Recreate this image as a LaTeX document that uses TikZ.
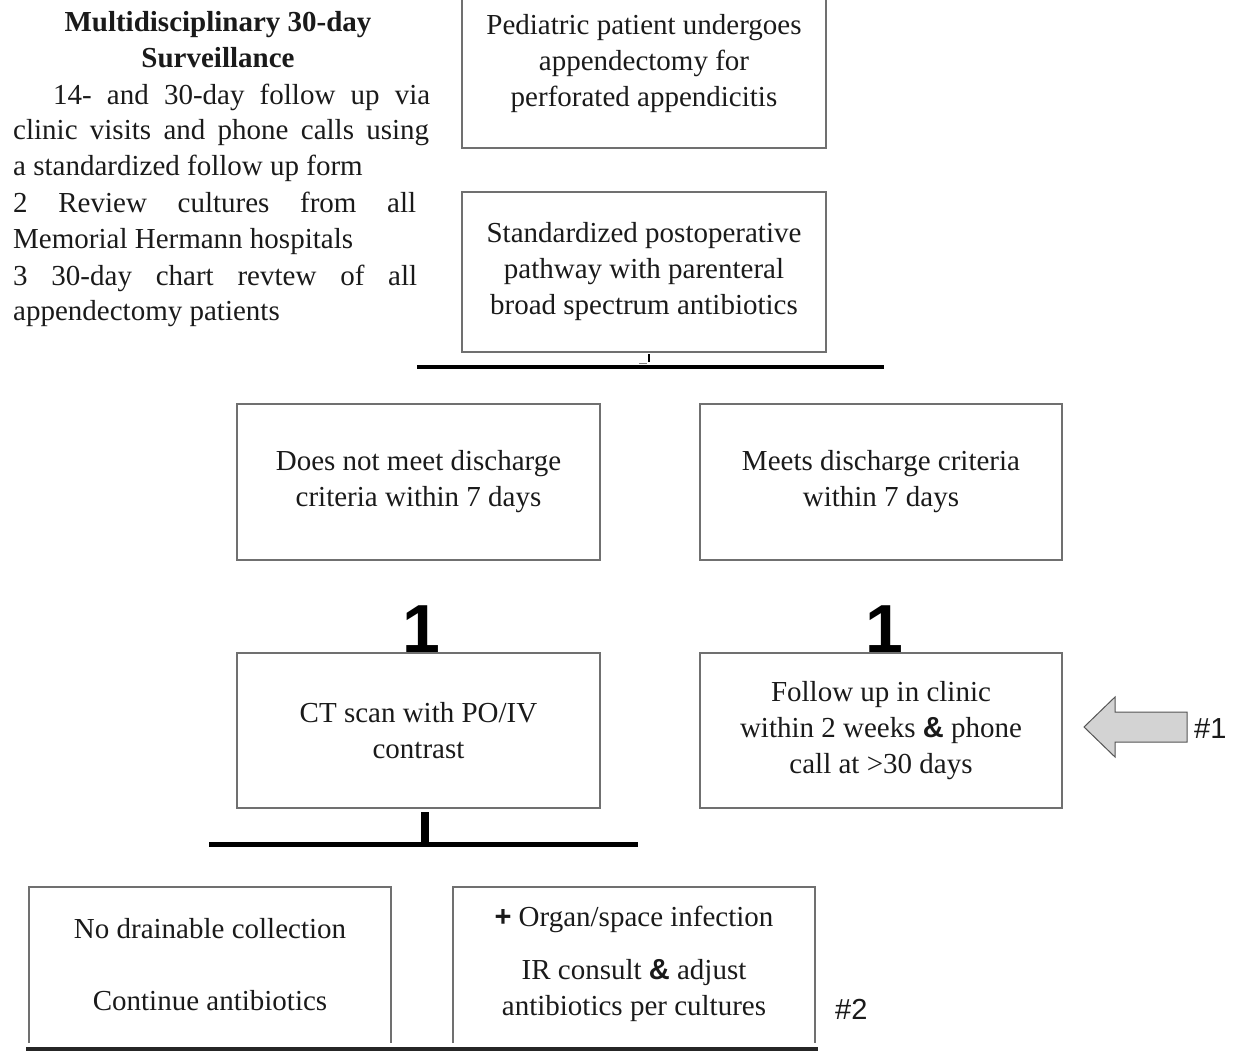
\documentclass[tikz,border=0pt]{standalone}
\usepackage{fontspec}
\setmainfont{Liberation Serif}
\newfontfamily\arialf{Liberation Sans}
\definecolor{boxgray}{HTML}{707070}
\definecolor{inkc}{HTML}{1A1A1A}
\definecolor{arrowfill}{HTML}{D3D3D3}
\definecolor{arrowdraw}{HTML}{555555}
\newcommand{\bodyfs}{\fontsize{29}{36}\selectfont}
\begin{document}
\begin{tikzpicture}[x=1pt,y=-1pt,
  box/.style={draw=boxgray,line width=1.4pt,minimum width=364pt,inner sep=0pt,
    font=\bodyfs,align=center,text=inkc},
  txt/.style={font=\bodyfs,align=center,inner sep=0pt,text=inkc},
  ltxt/.style={font=\bodyfs,inner sep=0pt,anchor=base west,text=inkc},
  bar/.style={line width=4pt,black},
  openbox/.style={draw=boxgray,line width=1.4pt},
  bigone/.style={font=\arialf\bfseries\fontsize{68}{68}\selectfont,inner sep=0pt,anchor=base},
  tag/.style={font=\arialf\fontsize{29}{32}\selectfont,inner sep=0pt,anchor=west,text=inkc}]
\useasboundingbox (0,0) rectangle (1239,1051);

% left surveillance text
\node[txt,font=\bodyfs\bfseries,anchor=base] (h1) at (218,32) {Multidisciplinary 30-day};
\node[txt,font=\bodyfs\bfseries,anchor=base] (h2) at (218,68) {Surveillance};
\node[ltxt] (l1) at (53,105) {\makebox[377pt][s]{14- and 30-day follow up via}};
\node[ltxt] (l2) at (13,140) {\makebox[416pt][s]{clinic visits and phone calls using}};
\node[ltxt] (l3) at (13,176) {a standardized follow up form};
\node[ltxt] (l4) at (13,212) {\makebox[403pt][s]{2 Review cultures from all}};
\node[ltxt] (l5) at (13,248) {Memorial Hermann hospitals};
\node[ltxt] (l6) at (13,285) {\makebox[404pt][s]{3 30-day chart revtew of all}};
\node[ltxt] (l7) at (13,320) {appendectomy patients};

% main boxes
\node[box,minimum height=168pt] (b1) at (644,64)
  {Pediatric patient undergoes\\appendectomy for\\perforated appendicitis};
\node[box,minimum height=160pt] (b2) at (644,272)
  {Standardized postoperative\\pathway with parenteral\\broad spectrum antibiotics};
\node[box,minimum width=363pt,minimum height=156pt] (b3) at (418.5,482)
  {Does not meet discharge\\criteria within 7 days};
\node[box,minimum width=362pt,minimum height=156pt] (b4) at (881,482)
  {Meets discharge criteria\\within 7 days};
\node[box,minimum width=363pt,minimum height=155pt] (b5) at (418.5,730.5)
  {CT scan with PO/IV\\contrast};
\node[box,minimum width=362pt,minimum height=155pt] (b6) at (881,730.5)
  {Follow up in clinic\\within 2 weeks {\arialf\bfseries\&} phone\\call at >30 days};

% bar under b2
\coordinate (t1a) at (649,354);
\coordinate (t1b) at (649,362);
\draw[line width=2pt,black] (t1a) -- (t1b);
\coordinate (u1a) at (639,363.5);
\coordinate (u1b) at (647,363.5);
\draw[line width=1pt,gray] (u1a) -- (u1b);
\coordinate (bar1l) at (417,367);
\coordinate (bar1r) at (884,367);
\draw[bar] (bar1l) -- (bar1r);

% the big "1" marks
\node[bigone] (one1) at (421,652) {1};
\node[bigone] (one2) at (884,652) {1};

% arrow #1
\coordinate (ar0) at (1084,727);
\draw[fill=arrowfill,draw=arrowdraw,line width=1pt,line join=miter]
  (ar0) -- (1115,697) -- (1115,712) -- (1187,712) -- (1187,742)
  -- (1115,742) -- (1115,757) -- cycle;
\node[tag] (tag1) at (1194,729) {\#1};

% bar under CT box
\coordinate (s2a) at (425,812);
\coordinate (s2b) at (425,842);
\draw[line width=8pt,black] (s2a) -- (s2b);
\coordinate (bar2l) at (209,844.5);
\coordinate (bar2r) at (638,844.5);
\draw[line width=5pt,black] (bar2l) -- (bar2r);

% bottom open boxes
\coordinate (lb1) at (29,1043);
\coordinate (lt1) at (29,887);
\coordinate (rt1) at (391,887);
\coordinate (rb1) at (391,1043);
\draw[openbox] (lb1) -- (lt1) -- (rt1) -- (rb1);
\coordinate (lb2) at (453,1043);
\coordinate (lt2) at (453,887);
\coordinate (rt2) at (815,887);
\coordinate (rb2) at (815,1043);
\draw[openbox] (lb2) -- (lt2) -- (rt2) -- (rb2);

\node[txt] (n1) at (210,929) {No drainable collection};
\node[txt] (n2) at (210,1001) {Continue antibiotics};
\node[txt] (n3) at (634,919) {{\arialf\bfseries +} Organ/space infection};
\node[txt] (n4) at (634,991) {IR consult {\arialf\bfseries\&} adjust\\antibiotics per cultures};
\node[tag] (tag2) at (835,1009) {\#2};

% bottom line
\coordinate (bar3l) at (26,1049);
\coordinate (bar3r) at (818,1049);
\draw[line width=3.5pt,black!85] (bar3l) -- (bar3r);
\end{tikzpicture}
\end{document}
